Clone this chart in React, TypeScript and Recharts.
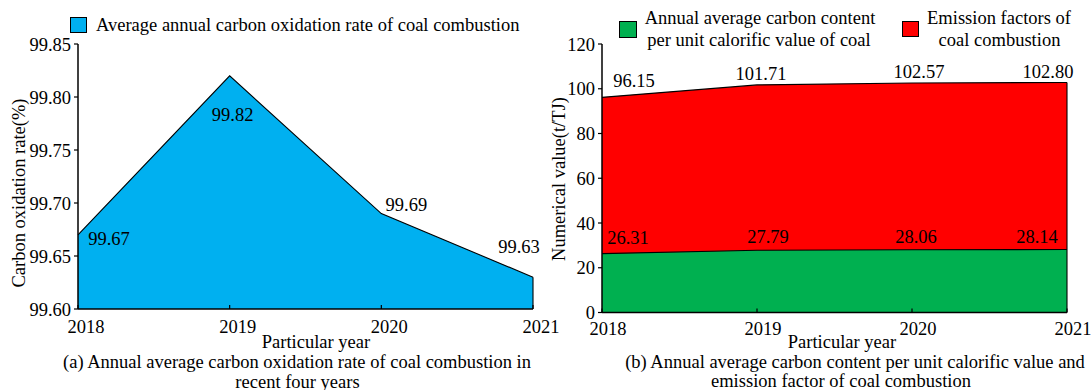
import React from 'react';
import { AreaChart, Area, XAxis, YAxis, LabelList, ReferenceLine } from 'recharts';

// Years shared by both panels
const years = ['2018', '2019', '2020', '2021'];

// (a) average annual carbon oxidation rate of coal combustion, %
const oxidationRate = [99.67, 99.82, 99.69, 99.63];
const rateTicks = [99.6, 99.65, 99.7, 99.75, 99.8, 99.85];

// (b) carbon content per unit calorific value and emission factor, t/TJ
const carbonContent = [26.31, 27.79, 28.06, 28.14];
const emissionFactor = [96.15, 101.71, 102.57, 102.8];
const valueTicks = [0, 20, 40, 60, 80, 100, 120];

const rateData = years.map((year, i) => ({ year, rate: oxidationRate[i] }));
const valueData = years.map((year, i) => ({
  year,
  carbon: carbonContent[i],
  emission: emissionFactor[i],
}));

const FONT = '"Liberation Serif", "Times New Roman", Times, serif';
const FS = 18.5;
const BLUE = '#00B0F0';
const GREEN = '#00B050';
const RED = '#FF0000';

const svgText: React.CSSProperties = { fontFamily: FONT, fontSize: FS };

// label nudges (dx, dy) from each point, per year
const rateLabelShift = [[31, 4], [3, 39], [25, -9], [-14, -30]];
const emissionLabelShift = [[32, -16], [4, -11], [7, -11], [-19, -10.5]];
const carbonLabelShift = [[26, -16], [11, -13], [4, -13], [-30, -12.5]];

const shiftedLabel = (shift: number[][]) => (props: any) => {
  const { value, index } = props;
  const vb = props.viewBox || {};
  const px = typeof vb.x === 'number' ? vb.x + (vb.width || 0) / 2 : props.x;
  const py = typeof vb.y === 'number' ? vb.y : props.y;
  const [dx, dy] = shift[index] || [0, 0];
  return (
    <text x={px + dx} y={py + dy} textAnchor="middle" dominantBaseline="central" style={svgText} fill="#000">
      {Number(value).toFixed(2)}
    </text>
  );
};

const YearTick = (props: any) => {
  const { x, y, payload, shift = 8 } = props;
  return (
    <text x={x + shift} y={y} dy="0.71em" textAnchor="middle" style={svgText} fill="#000">
      {payload.value}
    </text>
  );
};

const ValueTick = (props: any) => {
  const { x, y, payload, digits = 0 } = props;
  return (
    <text x={x} y={y} dy="0.355em" textAnchor="end" style={svgText} fill="#000">
      {Number(payload.value).toFixed(digits)}
    </text>
  );
};

const axisLineStyle = { stroke: '#000', strokeWidth: 1.5 };
const tickLineStyle = { stroke: '#000', strokeWidth: 1.2 };

const textBase: React.CSSProperties = {
  position: 'absolute',
  fontFamily: FONT,
  fontSize: FS,
  lineHeight: 1,
  color: '#000',
  whiteSpace: 'nowrap',
  transform: 'translate(-50%, -50%)',
};

const Centered = ({ x, y, children }: { x: number; y: number; children: React.ReactNode }) => (
  <div style={{ ...textBase, left: x, top: y }}>{children}</div>
);

const Rotated = ({ x, y, children }: { x: number; y: number; children: React.ReactNode }) => (
  <div style={{ ...textBase, left: x, top: y, transform: 'translate(-50%, -50%) rotate(-90deg)' }}>{children}</div>
);

const Swatch = ({ x, y, w, h, color }: { x: number; y: number; w: number; h: number; color: string }) => (
  <div
    style={{
      position: 'absolute',
      left: x,
      top: y,
      width: w,
      height: h,
      boxSizing: 'border-box',
      background: color,
      border: '1.3px solid #000',
    }}
  />
);

export default function App() {
  return (
    <div
      style={{
        position: 'absolute',
        left: 0,
        top: 0,
        width: 1091,
        height: 390,
        background: '#fff',
        overflow: 'hidden',
        fontFamily: FONT,
      }}
    >
      {/* (a) oxidation rate */}
      <div style={{ position: 'absolute', left: 0, top: 0 }}>
        <AreaChart width={565} height={390} data={rateData} margin={{ top: 44, right: 32, bottom: 51, left: 0 }}>
          <XAxis
            dataKey="year"
            interval={0}
            height={30}
            axisLine={axisLineStyle}
            tickLine={tickLineStyle}
            tickSize={-4}
            tickMargin={15}
            tick={<YearTick />}
          />
          <YAxis
            type="number"
            domain={[99.6, 99.85]}
            ticks={rateTicks}
            interval={0}
            width={78}
            axisLine={axisLineStyle}
            tickLine={tickLineStyle}
            tickSize={4}
            tickMargin={3}
            tick={<ValueTick digits={2} />}
          />
          <Area
            type="linear"
            dataKey="rate"
            fill={BLUE}
            fillOpacity={1}
            stroke="#000"
            strokeWidth={1.1}
            dot={false}
            activeDot={false}
            isAnimationActive={false}
          >
            <LabelList dataKey="rate" content={shiftedLabel(rateLabelShift)} />
          </Area>
          <ReferenceLine
            segment={[
              { x: years[3], y: 99.6 },
              { x: years[3], y: oxidationRate[3] },
            ]}
            stroke="#000"
            strokeWidth={1.1}
          />
        </AreaChart>
      </div>

      {/* (b) carbon content and emission factor */}
      <div style={{ position: 'absolute', left: 545, top: 0 }}>
        <AreaChart width={556} height={390} data={valueData} margin={{ top: 44, right: 34, bottom: 47.5, left: 0 }}>
          <XAxis
            dataKey="year"
            interval={0}
            height={30}
            axisLine={axisLineStyle}
            tickLine={tickLineStyle}
            tickSize={-4}
            tickMargin={13.5}
            tick={<YearTick shift={6} />}
          />
          <YAxis
            type="number"
            domain={[0, 120]}
            ticks={valueTicks}
            interval={0}
            width={57}
            axisLine={axisLineStyle}
            tickLine={tickLineStyle}
            tickSize={4}
            tickMargin={3}
            tick={<ValueTick digits={0} />}
          />
          <Area
            type="linear"
            dataKey="emission"
            fill={RED}
            fillOpacity={1}
            stroke="#000"
            strokeWidth={1.1}
            dot={false}
            activeDot={false}
            isAnimationActive={false}
          >
            <LabelList dataKey="emission" content={shiftedLabel(emissionLabelShift)} />
          </Area>
          <Area
            type="linear"
            dataKey="carbon"
            fill={GREEN}
            fillOpacity={1}
            stroke="#000"
            strokeWidth={1.1}
            dot={false}
            activeDot={false}
            isAnimationActive={false}
          >
            <LabelList dataKey="carbon" content={shiftedLabel(carbonLabelShift)} />
          </Area>
          <ReferenceLine
            segment={[
              { x: years[3], y: 0 },
              { x: years[3], y: emissionFactor[3] },
            ]}
            stroke="#000"
            strokeWidth={1.1}
          />
        </AreaChart>
      </div>

      {/* legends */}
      <Swatch x={70} y={17} w={17} h={16} color={BLUE} />
      <div style={{ ...textBase, left: 96, top: 25, transform: 'translate(0, -50%)' }}>
        Average annual carbon oxidation rate of coal combustion
      </div>

      <Swatch x={619} y={21} w={18} h={17} color={GREEN} />
      <Centered x={760} y={18.3}>Annual average carbon content</Centered>
      <Centered x={759} y={40}>per unit calorific value of coal</Centered>

      <Swatch x={902} y={21} w={17} h={16} color={RED} />
      <Centered x={999} y={18.3}>Emission factors of</Centered>
      <Centered x={999.5} y={40}>coal combustion</Centered>

      {/* axis titles */}
      <Rotated x={18.8} y={193}>Carbon oxidation rate(%)</Rotated>
      <Rotated x={559} y={179}>Numerical value(t/TJ)</Rotated>
      <Centered x={316} y={341.7}>Particular year</Centered>
      <Centered x={842} y={341.7}>Particular year</Centered>

      {/* panel captions */}
      <Centered x={297} y={361.7}>(a) Annual average carbon oxidation rate of coal combustion in</Centered>
      <Centered x={297.5} y={381.7}>recent four years</Centered>
      <Centered x={855} y={361.7}>(b) Annual average carbon content per unit calorific value and</Centered>
      <Centered x={841} y={380.5}>emission factor of coal combustion</Centered>
    </div>
  );
}
